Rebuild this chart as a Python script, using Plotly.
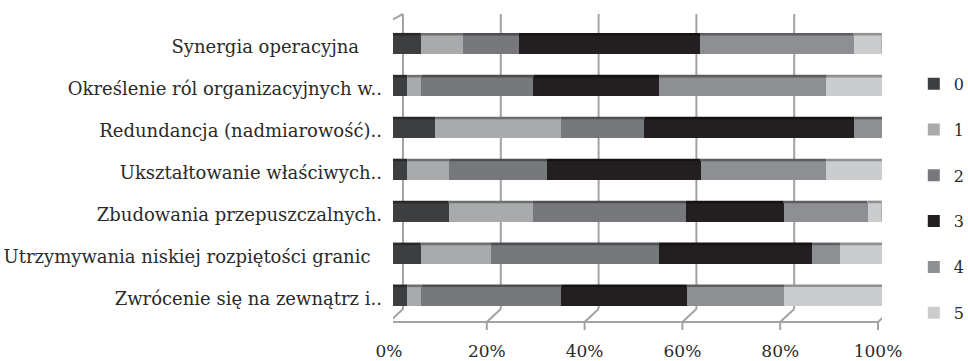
import plotly.graph_objects as go

# Survey answers (share of respondents, %) for each organisational factor
categories = [
    "Synergia operacyjna",
    "Określenie ról organizacyjnych w..",
    "Redundancja (nadmiarowość)..",
    "Ukształtowanie właściwych..",
    "Zbudowania przepuszczalnych.",
    "Utrzymywania niskiej rozpiętości granic",
    "Zwrócenie się na zewnątrz i..",
]
# a couple of labels carry a trailing space in the source sheet
category_text = [
    "Synergia operacyjna\u00a0\u00a0\u00a0\u00a0",
    "Określenie ról organizacyjnych w..",
    "Redundancja (nadmiarowość)..",
    "Ukształtowanie właściwych..",
    "Zbudowania przepuszczalnych.",
    "Utrzymywania niskiej rozpiętości granic\u00a0\u00a0",
    "Zwrócenie się na zewnątrz i..",
]
score_labels = ["0", "1", "2", "3", "4", "5"]
score_0 = [5.7, 2.9, 8.6, 2.9, 11.4, 5.7, 2.9]
score_1 = [8.6, 2.9, 25.7, 8.6, 17.1, 14.3, 2.9]
score_2 = [11.4, 22.9, 17.1, 20.0, 31.4, 34.3, 28.6]
score_3 = [37.1, 25.7, 42.9, 31.4, 20.0, 31.4, 25.7]
score_4 = [31.4, 34.3, 5.7, 25.7, 17.1, 5.7, 20.0]
score_5 = [5.7, 11.4, 0.0, 11.4, 2.9, 8.6, 20.0]
series = [score_0, score_1, score_2, score_3, score_4, score_5]

x_ticks = [0, 20, 40, 60, 80, 100]
x_tick_text = ["0%", "20%", "40%", "60%", "80%", "100%"]

colors = ["#3d3e40", "#a9aaac", "#77787b", "#231f20", "#8e8f92", "#cbcccd"]
top_colors = ["#28292a", "#6e6f71", "#4d4e50", "#151213", "#5c5d5f", "#8f9092"]

TEXT = "#2a2a2a"
GRID = "#a3a3a3"
FONT = "DejaVu Serif"

fig = go.Figure()
for name, vals, col in zip(score_labels, series, colors):
    fig.add_trace(go.Bar(
        y=categories, x=vals, name=name, orientation="h",
        marker=dict(color=col, line=dict(width=0)),
        legendgroup=name,
    ))

# pixel offsets (relative to the plot's bottom edge) of the 3-D frame
FLOOR_FRONT = -4
FLOOR_BACK = 9
WALL_TOP = 304

shapes = []
for v in x_ticks:
    # back wall gridline, offset up-right to suggest depth
    shapes.append(dict(type="line", xref="x", xsizemode="pixel", xanchor=v,
                       x0=10, x1=10, yref="paper", ysizemode="pixel", yanchor=0,
                       y0=FLOOR_BACK, y1=WALL_TOP, line=dict(color=GRID, width=2), layer="below"))
    # floor slant from the front edge to the back wall, plus the outward tick
    shapes.append(dict(type="path", xref="x", xsizemode="pixel", xanchor=v,
                       yref="paper", ysizemode="pixel", yanchor=0,
                       path=f"M-4,{FLOOR_FRONT - 8} L-4,{FLOOR_FRONT} L10,{FLOOR_BACK}",
                       line=dict(color=GRID, width=2), layer="below"))
# floor front edge
shapes.append(dict(type="path", xref="x", xsizemode="pixel", xanchor=0,
                   yref="paper", ysizemode="pixel", yanchor=0,
                   path=f"M-5,{FLOOR_FRONT} L485,{FLOOR_FRONT}",
                   line=dict(color=GRID, width=2), layer="below"))
# left wall front edge and top slant
shapes.append(dict(type="path", xref="x", xsizemode="pixel", xanchor=0,
                   yref="paper", ysizemode="pixel", yanchor=0,
                   path=f"M-5,{FLOOR_FRONT} L-5,296 L10,{WALL_TOP}",
                   line=dict(color=GRID, width=2), layer="below"))
# small ticks on the left wall between categories
for i in range(len(categories) + 1):
    shapes.append(dict(type="line", xref="x", xsizemode="pixel", xanchor=0, x0=-12, x1=-5,
                       yref="y", ysizemode="pixel", yanchor=i - 0.5, y0=-3, y1=-3,
                       line=dict(color=GRID, width=1.5), layer="below"))

# top faces of every segment and right end faces of each bar
half = 9.2
depth = 2.6
for ci in range(len(categories)):
    start = 0.0
    for si, vals in enumerate(series):
        v = vals[ci]
        if v > 0:
            shapes.append(dict(type="rect", xref="x", x0=start, x1=start + v,
                               yref="y", ysizemode="pixel", yanchor=ci,
                               y0=half, y1=half + depth,
                               fillcolor=top_colors[si], line=dict(width=0), layer="above"))
        start += v
    last = max(i for i, s in enumerate(series) if s[ci] > 0)
    shapes.append(dict(type="path", xref="x", xsizemode="pixel", xanchor=start,
                       yref="y", ysizemode="pixel", yanchor=ci,
                       path=f"M0,{-half} L0,{half + depth} L5,{half + depth + 1} L5,{-half + 3} Z",
                       fillcolor=top_colors[last], line=dict(width=0), layer="above"))

fig.update_layout(
    width=968, height=361,
    margin=dict(l=393, r=86, t=20, b=43, autoexpand=False),
    paper_bgcolor="white", plot_bgcolor="rgba(0,0,0,0)",
    barmode="stack", barnorm="percent", bargap=0.56,
    font=dict(family=FONT, color=TEXT, size=15),
    shapes=shapes,
    showlegend=True,
    legend=dict(
        xref="container", yref="container",
        x=0.944, xanchor="left", y=0.815, yanchor="top",
        traceorder="grouped", tracegroupgap=22, maxheight=340,
        font=dict(family=FONT, size=16, color=TEXT),
        itemwidth=30, bgcolor="rgba(0,0,0,0)",
    ),
    xaxis=dict(
        range=[0, 100], tickvals=x_ticks, ticktext=x_tick_text,
        showgrid=False, zeroline=False, showline=False, ticks="",
        tickfont=dict(family=FONT, size=17, color=TEXT),
        ticklabelshift=-4, ticklabelstandoff=21, automargin=False, fixedrange=True,
    ),
    yaxis=dict(
        autorange="reversed", showgrid=False, zeroline=False, showline=False,
        tickvals=categories, ticktext=category_text,
        ticks="", tickfont=dict(family=FONT, size=18, color=TEXT),
        ticklabelstandoff=10, ticklabelshift=-2, automargin=False,
    ),
)

fig.write_html("out.html")
